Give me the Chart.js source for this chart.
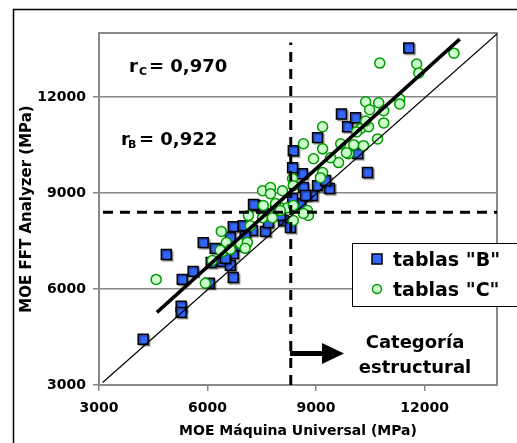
<!DOCTYPE html>
<html>
<head>
<meta charset="utf-8">
<script src="https://cdn.jsdelivr.net/npm/chart.js@4.4.0/dist/chart.umd.min.js"></script>
<style>
  html, body { margin: 0; padding: 0; background: #fff; }
  canvas { display: block; }
</style>
</head>
<body>
<canvas id="myChart" width="517" height="443"></canvas>
<script>
// tick values on both axes
const axisTicks = [3000, 6000, 9000, 12000];

// tablas "B" (blue squares), MOE maquina universal vs MOE FFT
const bX = [4220, 5270, 5270, 4860, 5880, 5600, 5300, 6100, 6410, 6710, 6630, 6710, 6490, 6050,
  6710, 6990, 7240, 7600, 7320, 8100, 8290, 6630, 7040, 7540, 7270, 8570, 8900, 8350, 8650,
  9040, 9370, 9260, 8620, 8350, 8370, 9040, 9870, 9700, 10090, 10150, 10420, 11560,
  7880, 6910, 6210, 7680, 8710, 8010];
const bY = [4430, 5460, 5270, 7080, 7450, 6550, 6300, 6830, 6860, 6360, 6740, 7110, 6960, 6180,
  7950, 7980, 7830, 7800, 8610, 8140, 7920, 7610, 7640, 8360, 8640, 8670, 8920, 8830, 9170,
  9230, 9140, 9390, 9600, 9790, 10320, 10730, 11070, 11470, 11350, 10230, 9640, 13530,
  8450, 7360, 7270, 8080, 8920, 8300];

// tablas "C" (green circles)
const cX = [4580, 5940, 6130, 6380, 6520, 6410, 6630, 6910, 7100, 7040, 6350, 7130, 7180, 7540,
  7740, 8010, 8210, 8370, 7520, 7740, 8070, 7740, 7880, 7520, 7790, 8010, 8370, 8760, 8790,
  8650, 8350, 8370, 8650, 8930, 9180, 9180, 9680, 10040, 9620, 9900, 9400, 9180, 9120, 10230,
  10120, 10450, 10370, 10870, 10700, 10310, 9840, 10370, 10730, 10480, 10870, 11310, 11310,
  10760, 11780, 11840, 12810];
const cY = [6300, 6180, 6890, 7800, 7450, 7170, 7240, 7420, 7450, 7270, 7210, 8300, 7980, 8610,
  8300, 8540, 8540, 8140, 9070, 9170, 9070, 8980, 8670, 8230, 8230, 8450, 8610, 8450, 8300,
  8360, 9450, 9230, 10540, 10070, 11070, 10380, 10540, 10510, 9950, 10230, 10100, 9640, 9480,
  11010, 10910, 11070, 11250, 11190, 10690, 10480, 10260, 11850, 11820, 11600, 11570, 11940,
  11780, 13060, 13030, 12750, 13370];

// reference lines
const fitX = [4600, 12970];
const fitY = [5270, 13810];
const oneX = [3100, 14000];
const oneY = [3080, 13970];
const cutX = [8300, 8300];
const cutXY = [3000, 13700];
const cutYX = [3110, 14000];
const cutY = [8400, 8400];

const pts = (xs, ys) => xs.map((x, i) => ({ x: x, y: ys[i] }));

const FONT = '"DejaVu Sans", Verdana, sans-serif';

const bStyle = { fill: '#3366FF', line: '#000000' };
const cStyle = { fill: '#CCFFCC', line: '#009900' };

const extras = {
  id: 'extras',
  beforeDraw(chart) {
    const ctx = chart.ctx;
    ctx.save();
    ctx.fillStyle = '#fff';
    ctx.fillRect(0, 0, chart.width, chart.height);
    ctx.strokeStyle = '#000';
    ctx.lineWidth = 1.5;
    ctx.strokeRect(13.5, 9.5, 560, 500);
    ctx.restore();
  },
  beforeDatasetsDraw(chart) {
    const ctx = chart.ctx;
    const a = chart.chartArea;
    ctx.save();
    ctx.strokeStyle = '#888';
    ctx.lineWidth = 2;
    ctx.strokeRect(a.left, a.top, a.right - a.left, a.bottom - a.top);
    ctx.restore();
  },
  beforeDatasetDraw(chart, args) {
    if (chart.data.datasets[args.index].label === 'tablas "B"') {
      const ctx = chart.ctx;
      ctx.save();
      ctx.shadowColor = 'rgba(0,0,0,0.35)';
      ctx.shadowOffsetX = 1.5;
      ctx.shadowOffsetY = 1.5;
      ctx.shadowBlur = 1;
    }
  },
  afterDatasetDraw(chart, args) {
    if (chart.data.datasets[args.index].label === 'tablas "B"') {
      chart.ctx.restore();
    }
  },
  afterDraw(chart) {
    const ctx = chart.ctx;
    ctx.save();
    ctx.fillStyle = '#000';
    ctx.textBaseline = 'alphabetic';
    ctx.textAlign = 'left';

    // correlation labels
    ctx.font = 'bold 18px ' + FONT;
    ctx.fillText('r', 129, 72);
    ctx.fillText('= 0,970', 149, 72);
    ctx.fillText('r', 121, 145);
    ctx.fillText('= 0,922', 139, 145);
    ctx.font = 'bold 11px ' + FONT;
    ctx.fillText('C', 139, 75);
    ctx.fillText('B', 128, 148);

    // legend box
    ctx.fillStyle = '#fff';
    ctx.fillRect(352, 243, 170, 63);
    ctx.strokeStyle = '#000';
    ctx.lineWidth = 1;
    ctx.strokeRect(352.5, 243.5, 170, 63);
    ctx.fillStyle = bStyle.fill;
    ctx.strokeStyle = bStyle.line;
    ctx.lineWidth = 1.5;
    ctx.fillRect(372, 254, 10, 10);
    ctx.strokeRect(372, 254, 10, 10);
    ctx.beginPath();
    ctx.arc(377, 289, 4.5, 0, Math.PI * 2);
    ctx.fillStyle = cStyle.fill;
    ctx.fill();
    ctx.strokeStyle = cStyle.line;
    ctx.stroke();
    ctx.fillStyle = '#000';
    ctx.font = 'bold 19px ' + FONT;
    ctx.fillText('tablas "B"', 393, 266);
    ctx.fillText('tablas "C"', 393, 296);

    // arrow + category text
    ctx.fillRect(290, 351, 34, 5);
    ctx.beginPath();
    ctx.moveTo(322, 343);
    ctx.lineTo(344, 353.5);
    ctx.lineTo(322, 364);
    ctx.closePath();
    ctx.fill();
    ctx.font = 'bold 18px ' + FONT;
    ctx.textAlign = 'center';
    ctx.fillText('Categoría', 415, 348);
    ctx.fillText('estructural', 415, 373);
    ctx.restore();
  }
};

const lineSet = (label, xs, ys, width, dash) => ({
  label: label,
  data: pts(xs, ys),
  showLine: true,
  borderColor: '#000',
  backgroundColor: '#000',
  borderWidth: width,
  borderDash: dash || [],
  pointRadius: 0,
  pointHoverRadius: 0
});

const ctx = document.getElementById('myChart');
new Chart(ctx, {
  type: 'scatter',
  data: {
    datasets: [
      lineSet('cut x', cutX, cutXY, 3, [10, 7]),
      lineSet('cut y', cutYX, cutY, 3, [10, 7]),
      lineSet('fit', fitX, fitY, 3.5),
      lineSet('1:1', oneX, oneY, 1.2),
      {
        label: 'tablas "C"',
        data: pts(cX, cY),
        pointStyle: 'circle',
        pointRadius: 5,
        pointBorderWidth: 1.5,
        backgroundColor: cStyle.fill,
        borderColor: cStyle.line
      },
      {
        label: 'tablas "B"',
        data: pts(bX, bY),
        pointStyle: 'rect',
        pointRadius: 7,
        pointBorderWidth: 1.5,
        backgroundColor: bStyle.fill,
        borderColor: bStyle.line
      }
    ]
  },
  plugins: [extras],
  options: {
    responsive: false,
    animation: false,
    devicePixelRatio: 1,
    layout: { padding: { left: 18, top: 33, right: 20, bottom: 0 } },
    plugins: {
      legend: { display: false },
      tooltip: { enabled: false }
    },
    scales: {
      x: {
        type: 'linear',
        min: 3000,
        max: 14000,
        afterFit: (scale) => { scale.height = 58; },
        afterBuildTicks: (scale) => { scale.ticks = axisTicks.map(v => ({ value: v })); },
        ticks: {
          callback: (v) => String(v),
          font: { family: FONT, size: 14, weight: 'bold' },
          color: '#000',
          padding: 9,
          maxRotation: 0
        },
        grid: { drawOnChartArea: false, color: '#888', lineWidth: 1.5, tickLength: 6 },
        border: { display: false },
        title: {
          display: true,
          text: 'MOE Máquina Universal (MPa)',
          font: { family: FONT, size: 14, weight: 'bold' },
          color: '#000',
          padding: { top: 0, bottom: 3 }
        }
      },
      y: {
        type: 'linear',
        min: 3000,
        max: 14000,
        afterFit: (scale) => { scale.width = 81; },
        afterBuildTicks: (scale) => { scale.ticks = axisTicks.map(v => ({ value: v })); },
        ticks: {
          callback: (v) => String(v),
          font: { family: FONT, size: 14, weight: 'bold' },
          color: '#000',
          padding: 7
        },
        grid: { color: '#888', lineWidth: 1.5, tickLength: 6 },
        border: { display: false },
        title: {
          display: true,
          text: 'MOE FFT Analyzer (MPa)',
          font: { family: FONT, size: 15, weight: 'bold' },
          color: '#000',
          padding: { top: 0, bottom: 0 }
        }
      }
    }
  }
});
</script>
</body>
</html>
